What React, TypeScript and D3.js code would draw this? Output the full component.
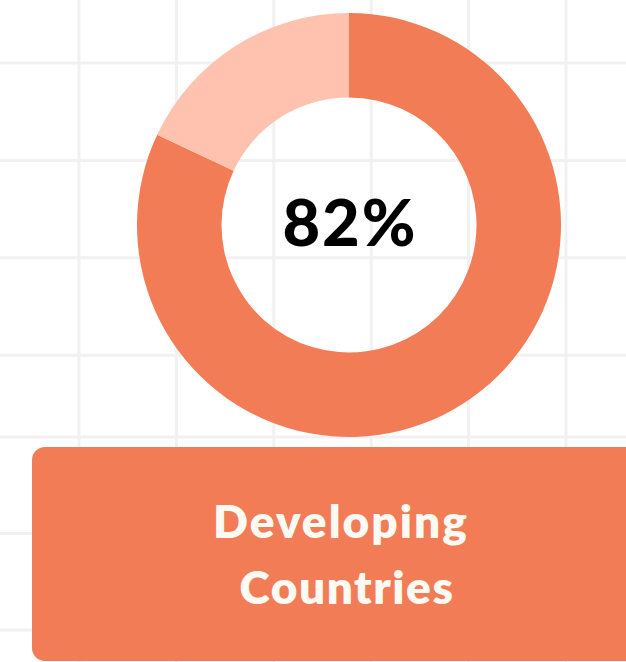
import React from "react";
import * as d3 from "d3";

const categories = ["Developing Countries", "Other"];
const values = [82, 18];
const colors = ["#F27C55", "#FFC2AE"];
const centerLabel = "82%";
const titleLines = ["Developing", "Countries"];

const W = 626;
const H = 662;

export default function App() {
  const cx = 349;
  const cy = 225;
  const outerR = 212;
  const innerR = 127.5;

  const pie = d3.pie<number>().sort(null).value((d) => d);
  const arcs = pie(values);
  const arcGen = d3.arc<d3.PieArcDatum<number>>().innerRadius(innerR).outerRadius(outerR);

  const step = 97.4;
  const vLines = d3.range(79, W + 1, step);
  const hTop = d3.range(63, 440, step).filter((y) => y < 440);
  const hBottom = d3.range(437, H + 1, 96.5);

  return (
    <svg
      width={W}
      height={H}
      style={{ position: "absolute", left: 0, top: 0, background: "#ffffff" }}
    >
      <rect x={0} y={0} width={W} height={H} fill="#ffffff" />
      <g stroke="#F1F1F1" strokeWidth={3}>
        {vLines.map((x, i) => (
          <line key={"v" + i} x1={x} x2={x} y1={0} y2={H} />
        ))}
        {hTop.map((y, i) => (
          <line key={"ht" + i} x1={0} x2={W} y1={y} y2={y} />
        ))}
        {hBottom.map((y, i) => (
          <line key={"hb" + i} x1={0} x2={W} y1={y} y2={y} />
        ))}
      </g>
      <g transform={`translate(${cx},${cy})`}>
        {arcs.map((a, i) => (
          <path key={categories[i]} d={arcGen(a) || ""} fill={colors[i]} />
        ))}
        <text
          x={1}
          y={21}
          textAnchor="middle"
          fontFamily="Lato, sans-serif"
          fontWeight={900}
          fontSize={65}
          letterSpacing={2}
          fill="#000000"
        >
          {centerLabel}
        </text>
      </g>
      <rect x={32} y={447} width={W} height={214} rx={13} ry={13} fill={colors[0]} />
      <g
        fontFamily="Lato, sans-serif"
        fontWeight={800}
        fontSize={46}
        fill="#FCFAF3"
        textAnchor="middle"
      >
        <text x={341} y={538} letterSpacing={2}>{titleLines[0]}</text>
        <text x={347} y={604} letterSpacing={1.5}>{titleLines[1]}</text>
      </g>
    </svg>
  );
}
